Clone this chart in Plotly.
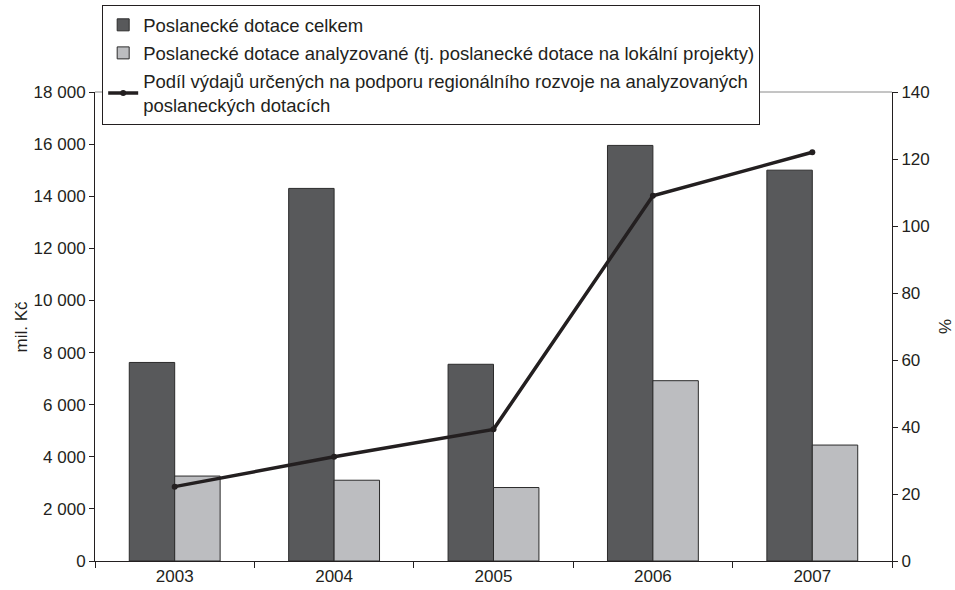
import plotly.graph_objects as go

years = ["2003", "2004", "2005", "2006", "2007"]
dotace_celkem = [7620, 14300, 7550, 15950, 15000]
dotace_analyzovane = [3260, 3100, 2820, 6920, 4450]
podil_pct = [22.2, 31.1, 39.3, 109.0, 122.0]

FONT = "Arial, Liberation Sans, sans-serif"

fig = go.Figure()
fig.add_trace(go.Bar(
    x=years, y=dotace_celkem, name="Poslanecké dotace celkem",
    marker=dict(color="#58595b", line=dict(color="#2b2b2b", width=1)),
    legendgroup="a",
))
fig.add_trace(go.Bar(
    x=years, y=dotace_analyzovane,
    name="Poslanecké dotace analyzované (tj. poslanecké dotace na lokální projekty)",
    marker=dict(color="#bcbdc0", line=dict(color="#2b2b2b", width=1)),
    legendgroup="b",
))
fig.add_trace(go.Scatter(
    x=years, y=podil_pct, yaxis="y2", mode="lines+markers",
    name="Podíl výdajů určených na podporu regionálního rozvoje na analyzovaných<br>poslaneckých dotacích",
    line=dict(color="#231f20", width=3.5),
    marker=dict(color="#231f20", size=6),
    legendgroup="c",
))

fig.update_layout(
    template="none",
    width=955, height=590,
    margin=dict(l=95, r=63, t=92, b=29, autoexpand=False),
    paper_bgcolor="white", plot_bgcolor="white",
    font=dict(family=FONT, size=17, color="#231f20"),
    separators=", ",
    barmode="group", bargap=0.43, bargroupgap=0,
    showlegend=True,
    legend=dict(
        xref="container", yref="container",
        x=0.107, y=0.991, xanchor="left", yanchor="top",
        bgcolor="white", bordercolor="#231f20", borderwidth=1,
        font=dict(family=FONT, size=18.5, color="#231f20"),
        tracegroupgap=1, traceorder="grouped",
    ),
    xaxis=dict(
        type="category", showline=True, linecolor="#231f20", linewidth=1,
        ticks="outside", tickson="boundaries", ticklen=6, tickcolor="#231f20",
        showgrid=False, zeroline=False, tickfont=dict(size=17),
    ),
    yaxis=dict(
        range=[0, 18000], dtick=2000, tickformat=",d",
        showline=True, linecolor="#231f20", linewidth=1,
        ticks="outside", ticklen=5, tickcolor="#231f20",
        showgrid=False, zeroline=False,
        tickfont=dict(size=17),
    ),
    yaxis2=dict(
        range=[0, 140], dtick=20, overlaying="y", side="right",
        showline=True, linecolor="#231f20", linewidth=1,
        ticks="outside", ticklen=5, tickcolor="#231f20",
        showgrid=False, zeroline=False,
        title=dict(text="%", font=dict(size=17), standoff=18),
        tickfont=dict(size=17),
    ),
    annotations=[dict(text="mil. Kč", xref="paper", yref="paper", x=-0.0916, y=0.5,
                      xanchor="center", yanchor="middle", textangle=-90,
                      showarrow=False, font=dict(size=17, family=FONT, color="#231f20"))],
    shapes=[dict(type="line", xref="paper", yref="paper", x0=0, x1=1, y0=1, y1=1,
                 line=dict(color="#8a8a8a", width=1), layer="below")],
)

fig.write_html("out.html", config={"displayModeBar": False},
               post_script="document.body.style.margin='0';")
